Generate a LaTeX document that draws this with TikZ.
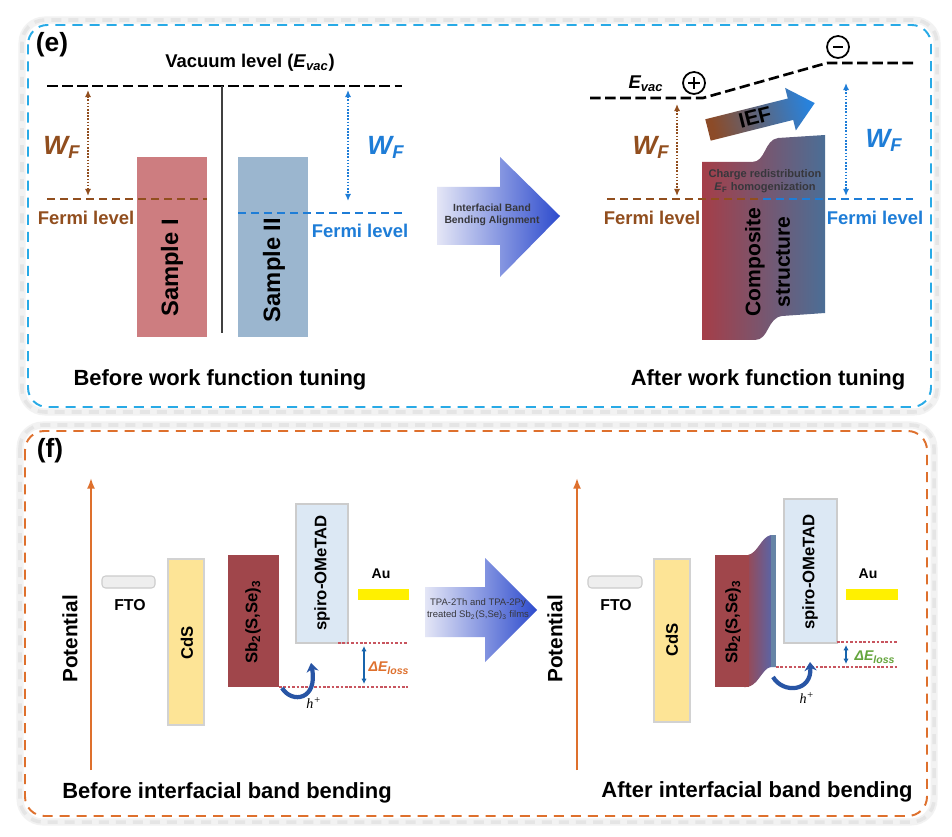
\documentclass[tikz,border=0pt]{standalone}
\usepackage{fontspec}
\setmainfont{Liberation Sans}
\newfontfamily\myserif{Liberation Serif}
\usetikzlibrary{arrows.meta,calc}
\definecolor{brn}{RGB}{145,78,30}
\definecolor{blu}{RGB}{30,125,215}
\definecolor{cyanbox}{RGB}{40,170,230}
\definecolor{orgbox}{RGB}{222,112,45}
\definecolor{samp1}{RGB}{205,125,128}
\definecolor{samp2}{RGB}{155,182,207}
\definecolor{sbred}{RGB}{160,70,75}
\definecolor{cdsy}{RGB}{253,228,150}
\definecolor{spirob}{RGB}{220,232,244}
\definecolor{auy}{RGB}{255,240,0}
\definecolor{ftog}{RGB}{238,238,238}
\definecolor{reddot}{RGB}{200,85,95}
\definecolor{arrblue}{RGB}{45,75,205}
\definecolor{arrlight}{RGB}{228,230,246}
\definecolor{curveb}{RGB}{40,85,165}
\definecolor{lossg}{RGB}{100,165,60}
\definecolor{lav}{RGB}{205,205,236}
\definecolor{steel}{RGB}{75,110,150}
\definecolor{compred}{RGB}{165,62,72}
\definecolor{iefbrn}{RGB}{140,75,40}
\definecolor{iefblu}{RGB}{40,130,220}
\definecolor{smalltxt}{RGB}{55,55,60}
\newcommand{\myfs}[1]{\fontsize{#1}{#1}\selectfont}
\begin{document}
\begin{tikzpicture}[x=0.02cm,y=-0.02cm,
  txt/.style={inner sep=0pt, font=\bfseries\myfs{10.5}},
  captxt/.style={inner sep=0pt, font=\bfseries\myfs{12.5}},
  big/.style={inner sep=0pt, font=\bfseries\myfs{13.5}},
  wf/.style={inner sep=0pt, font=\bfseries\itshape\myfs{15}},
  frame/.style={line width=1.1pt, dash pattern=on 5.7pt off 4pt, rounded corners=11pt},
  shadowglow/.style={gray!10, line width=4pt, rounded corners=13pt},
  shadowframe/.style={gray!20, line width=2pt, dash pattern=on 5.7pt off 4pt, rounded corners=13pt},
  vacdash/.style={black, line width=1.5pt, dash pattern=on 6pt off 2.6pt},
  fermidash/.style={line width=1pt, dash pattern=on 4.6pt off 2.8pt},
  wfarrow/.style={line width=0.8pt, dash pattern=on 0.9pt off 0.9pt, {Latex[length=4pt,width=3.5pt]}-{Latex[length=4pt,width=3.5pt]}},
  reddash/.style={reddot, line width=0.6pt, dash pattern=on 1.5pt off 1pt},
  dearrow/.style={blu!80!black, line width=0.6pt, {Latex[length=3pt,width=3pt]}-{Latex[length=3pt,width=3pt]}},
  potarrow/.style={orgbox, line width=1.1pt, -{Latex[length=6pt,width=4.5pt]}},
  holearrow/.style={curveb, line width=2.4pt, -{Stealth[length=5pt,width=7pt]}},
  rottxt/.style={inner sep=0pt, rotate=90, font=\bfseries\myfs{9.5}},
]
\useasboundingbox (0,0) rectangle (952,837);
\fill[white] (0,0) rectangle (952,837);

% ---------- frames ----------
\draw[shadowglow] (22,20) rectangle (937,412);
\draw[shadowglow] (20,425) rectangle (934,822);
\draw[shadowframe] (22,20) rectangle (937,412);
\draw[shadowframe] (20,425) rectangle (934,822);
\draw[frame, cyanbox] (28,25) rectangle (931,407);
\draw[frame, orgbox] (25,431) rectangle (927,816);

% ================= panel (e) =================
\node[inner sep=0pt, font=\bfseries\myfs{15}] (labe) at (52,45) {(e)};
\node[txt] (vac) at (250,63) {Vacuum level (\textit{E}\textsubscript{\textit{vac}})};

% samples
\fill[samp1] (137,157) rectangle (207,337);
\fill[samp2] (238,157) rectangle (308,337);
\node[big, rotate=90] (s1) at (172,268) {Sample I};
\node[big, rotate=90] (s2) at (274,270) {Sample II};

\coordinate (vl) at (47,86); \coordinate (vr) at (402,86);
\draw[vacdash] (vl) -- (vr);
\coordinate (vt) at (222,86); \coordinate (vb) at (222,333);
\draw[black!75, line width=1.3pt] (vt) -- (vb);

\coordinate (fl1) at (47,199); \coordinate (fl2) at (207,199);
\draw[brn, fermidash] (fl1) -- (fl2);
\coordinate (fb1) at (238,213); \coordinate (fb2) at (402,213);
\draw[blu, fermidash] (fb1) -- (fb2);

\coordinate (w1t) at (88,90); \coordinate (w1b) at (88,196);
\draw[brn, wfarrow] (w1t) -- (w1b);
\coordinate (w2t) at (348,90); \coordinate (w2b) at (348,201);
\draw[blu, wfarrow] (w2t) -- (w2b);

\node[wf, brn] (wfl) at (62,147) {W\textsubscript{F}};
\node[wf, blu] (wfr) at (386,147) {W\textsubscript{F}};
\node[txt, brn] (ferl) at (86,218) {Fermi level};
\node[txt, blu] (ferr) at (360,231) {Fermi level};
\node[captxt] (cape1) at (220,380) {Before work function tuning};

% middle block arrow (e)
\shade[left color=arrlight, right color=arrblue]
  (437,187) -- (500,187) -- (500,157) -- (560,216) -- (500,277) -- (500,245) -- (437,245) -- cycle;
\node[inner sep=0pt, align=center, text=smalltxt, font=\bfseries\myfs{5.9}] (ibba) at (492,215)
  {Interfacial Band\\[1pt]Bending Alignment};

% right side (e)
\shade[left color=compred, middle color=lav, right color=steel]
  (702,162) -- (752,162) .. controls (766,162) and (764,140) .. (778,138) -- (825,135)
  -- (825,313) -- (782,316) .. controls (767,318) and (769,340) .. (755,340) -- (702,340) -- cycle;

\coordinate (e1) at (590,98); \coordinate (e2) at (703,98);
\coordinate (e3) at (827,63); \coordinate (e4) at (913,63);
\draw[vacdash] (e1) -- (e2) -- (e3) -- (e4);

\node[circle, draw, line width=1pt, fill=white, minimum size=0.44cm, inner sep=0pt] (plus) at (694,83) {};
\draw[line width=1.5pt] ($(plus.center)+(-6,0)$) -- ($(plus.center)+(6,0)$);
\draw[line width=1.5pt] ($(plus.center)+(0,-6)$) -- ($(plus.center)+(0,6)$);
\node[circle, draw, line width=1pt, fill=white, minimum size=0.44cm, inner sep=0pt] (minus) at (838,47) {};
\draw[line width=1.5pt] ($(minus.center)+(-5,0)$) -- ($(minus.center)+(5,0)$);

\node[inner sep=0pt, font=\bfseries\itshape\myfs{10.5}] (evac) at (646,84) {E\textsubscript{vac}};

\coordinate (fr1) at (607,199); \coordinate (frm) at (763,199); \coordinate (fr2) at (913,199);
\draw[brn, fermidash] (fr1) -- (frm);
\draw[blu, fermidash] (frm) -- (fr2);

\coordinate (w3t) at (677,104); \coordinate (w3b) at (677,196);
\draw[brn, wfarrow] (w3t) -- (w3b);
\coordinate (w4t) at (846,83); \coordinate (w4b) at (846,196);
\draw[blu, wfarrow] (w4t) -- (w4b);

\node[wf, brn] (wfl2) at (651,147) {W\textsubscript{F}};
\node[wf, blu] (wfr2) at (884,140) {W\textsubscript{F}};
\node[txt, brn] (ferl2) at (652,218) {Fermi level};
\node[txt, blu] (ferr2) at (875,218) {Fermi level};

% IEF arrow
\shade[left color=iefbrn, right color=iefblu, shading angle=104]
  (705.3,119.3) -- (787.8,98.5) -- (785.1,87.9) -- (814.7,103.1) -- (795.8,130.5) -- (793.2,119.9) -- (710.7,140.7) -- cycle;
\node[inner sep=0pt, rotate=14, font=\bfseries\myfs{12}] (ief) at (755,117) {IEF};

\node[inner sep=0pt, text=smalltxt, font=\bfseries\myfs{6.3}] (chg) at (765,175) {Charge redistribution};
\node[inner sep=0pt, text=smalltxt, font=\bfseries\myfs{6.3}] (homo) at (765,188) {\textit{E}\textsubscript{F} homogenization};
\node[inner sep=0pt, rotate=90, font=\bfseries\myfs{12}] (comp) at (755,262) {Composite};
\node[inner sep=0pt, rotate=90, font=\bfseries\myfs{12}] (strc) at (783,262) {structure};

\node[captxt] (cape2) at (768,380) {After work function tuning};

% ================= panel (f) =================
\node[inner sep=0pt, font=\bfseries\myfs{15}] (labf) at (50,451) {(f)};

% ---- left diagram ----
\coordinate (pa1) at (91,770); \coordinate (pa2) at (91,478);
\draw[potarrow] (pa1) -- (pa2);
\node[inner sep=0pt, rotate=90, font=\bfseries\myfs{11.8}] (pot1) at (70,639) {Potential};

\draw[gray!40, fill=ftog, rounded corners=2pt, line width=0.6pt] (102,576) rectangle (155,588);
\node[inner sep=0pt, font=\bfseries\myfs{9}] (fto1) at (130,605) {FTO};
\draw[gray!35, fill=cdsy, line width=0.6pt] (168,559) rectangle (204,725);
\node[rottxt] (cds1) at (187,643) {CdS};
\fill[sbred] (228,555) rectangle (279,687);
\node[rottxt] (sb1) at (253,622) {Sb\textsubscript{2}(S,Se)\textsubscript{3}};
\draw[gray!40, fill=spirob, line width=0.6pt] (296,504) rectangle (348,643);
\node[rottxt] (sp1) at (322,573) {spiro-OMeTAD};
\fill[auy] (358,589) rectangle (409,600);
\node[inner sep=0pt, font=\bfseries\myfs{8}] (au1) at (381,574) {Au};

\coordinate (ru1) at (338,643); \coordinate (ru2) at (408,643);
\coordinate (rl1) at (279,687); \coordinate (rl2) at (408,687);
\draw[reddash] (ru1) -- (ru2);
\draw[reddash] (rl1) -- (rl2);
\coordinate (da1) at (364,646); \coordinate (da2) at (364,684);
\draw[dearrow] (da1) -- (da2);
\node[inner sep=0pt, text=orgbox, font=\bfseries\itshape\myfs{8}] (de1) at (389,668) {ΔE\textsubscript{loss}};

\coordinate (h1s) at (282,688); \coordinate (h1e) at (311,663);
\draw[holearrow] (h1s) .. controls (292,704) and (318,700) .. (h1e);
\node[inner sep=0pt, font=\myserif\itshape\myfs{8}] (hp1) at (314,703) {h\textsuperscript{+}};

\node[captxt] (capf1) at (227,793) {Before interfacial band bending};

% middle arrow (f)
\shade[left color=arrlight, right color=arrblue]
  (425,587) -- (485,587) -- (485,558) -- (537,610) -- (485,662) -- (485,637) -- (425,637) -- cycle;
\node[inner sep=0pt, align=center, text=smalltxt, font=\myfs{5.4}] (tpa) at (478,609)
  {TPA-2Th and TPA-2Py\\[1.5pt]treated Sb\textsubscript{2}(S,Se)\textsubscript{3} films};

% ---- right diagram ----
\coordinate (pb1) at (577,770); \coordinate (pb2) at (577,478);
\draw[potarrow] (pb1) -- (pb2);
\node[inner sep=0pt, rotate=90, font=\bfseries\myfs{11.8}] (pot2) at (555,639) {Potential};

\draw[gray!40, fill=ftog, rounded corners=2pt, line width=0.6pt] (588,576) rectangle (642,588);
\node[inner sep=0pt, font=\bfseries\myfs{9}] (fto2) at (616,605) {FTO};
\draw[gray!35, fill=cdsy, line width=0.6pt] (654,559) rectangle (690,722);
\node[rottxt] (cds2) at (672,640) {CdS};

\shade[left color=sbred, middle color=lav, right color=steel!80!blue!90]
  (744,555) -- (748,555) .. controls (758,553) and (761,537) .. (771,535) -- (776,535)
  -- (776,667) -- (771,667) .. controls (762,668) and (758,687) .. (746,687) -- (744,687) -- cycle;
\fill[steel!85] (771,535) -- (776,535) -- (776,667) -- (771,667) -- cycle;
\fill[sbred] (715,555) rectangle (749,687);
\node[rottxt] (sb2) at (733,622) {Sb\textsubscript{2}(S,Se)\textsubscript{3}};

\draw[gray!40, fill=spirob, line width=0.6pt] (784,499) rectangle (837,643);
\node[rottxt] (sp2) at (810,572) {spiro-OMeTAD};
\fill[auy] (846,589) rectangle (898,600);
\node[inner sep=0pt, font=\bfseries\myfs{8}] (au2) at (868,574) {Au};

\coordinate (su1) at (837,642); \coordinate (su2) at (898,642);
\coordinate (sl1) at (776,667); \coordinate (sl2) at (898,667);
\draw[reddash] (su1) -- (su2);
\draw[reddash] (sl1) -- (sl2);
\coordinate (db1) at (846,645); \coordinate (db2) at (846,664);
\draw[dearrow] (db1) -- (db2);
\node[inner sep=0pt, text=lossg, font=\bfseries\itshape\myfs{8}] (de2) at (875,657) {ΔE\textsubscript{loss}};

\coordinate (h2s) at (773,677); \coordinate (h2e) at (810,662);
\draw[holearrow] (h2s) .. controls (783,694) and (812,692) .. (h2e);
\node[inner sep=0pt, font=\myserif\itshape\myfs{8}] (hp2) at (807,698) {h\textsuperscript{+}};

\node[captxt] (capf2) at (757,792) {After interfacial band bending};
\end{tikzpicture}
\end{document}
